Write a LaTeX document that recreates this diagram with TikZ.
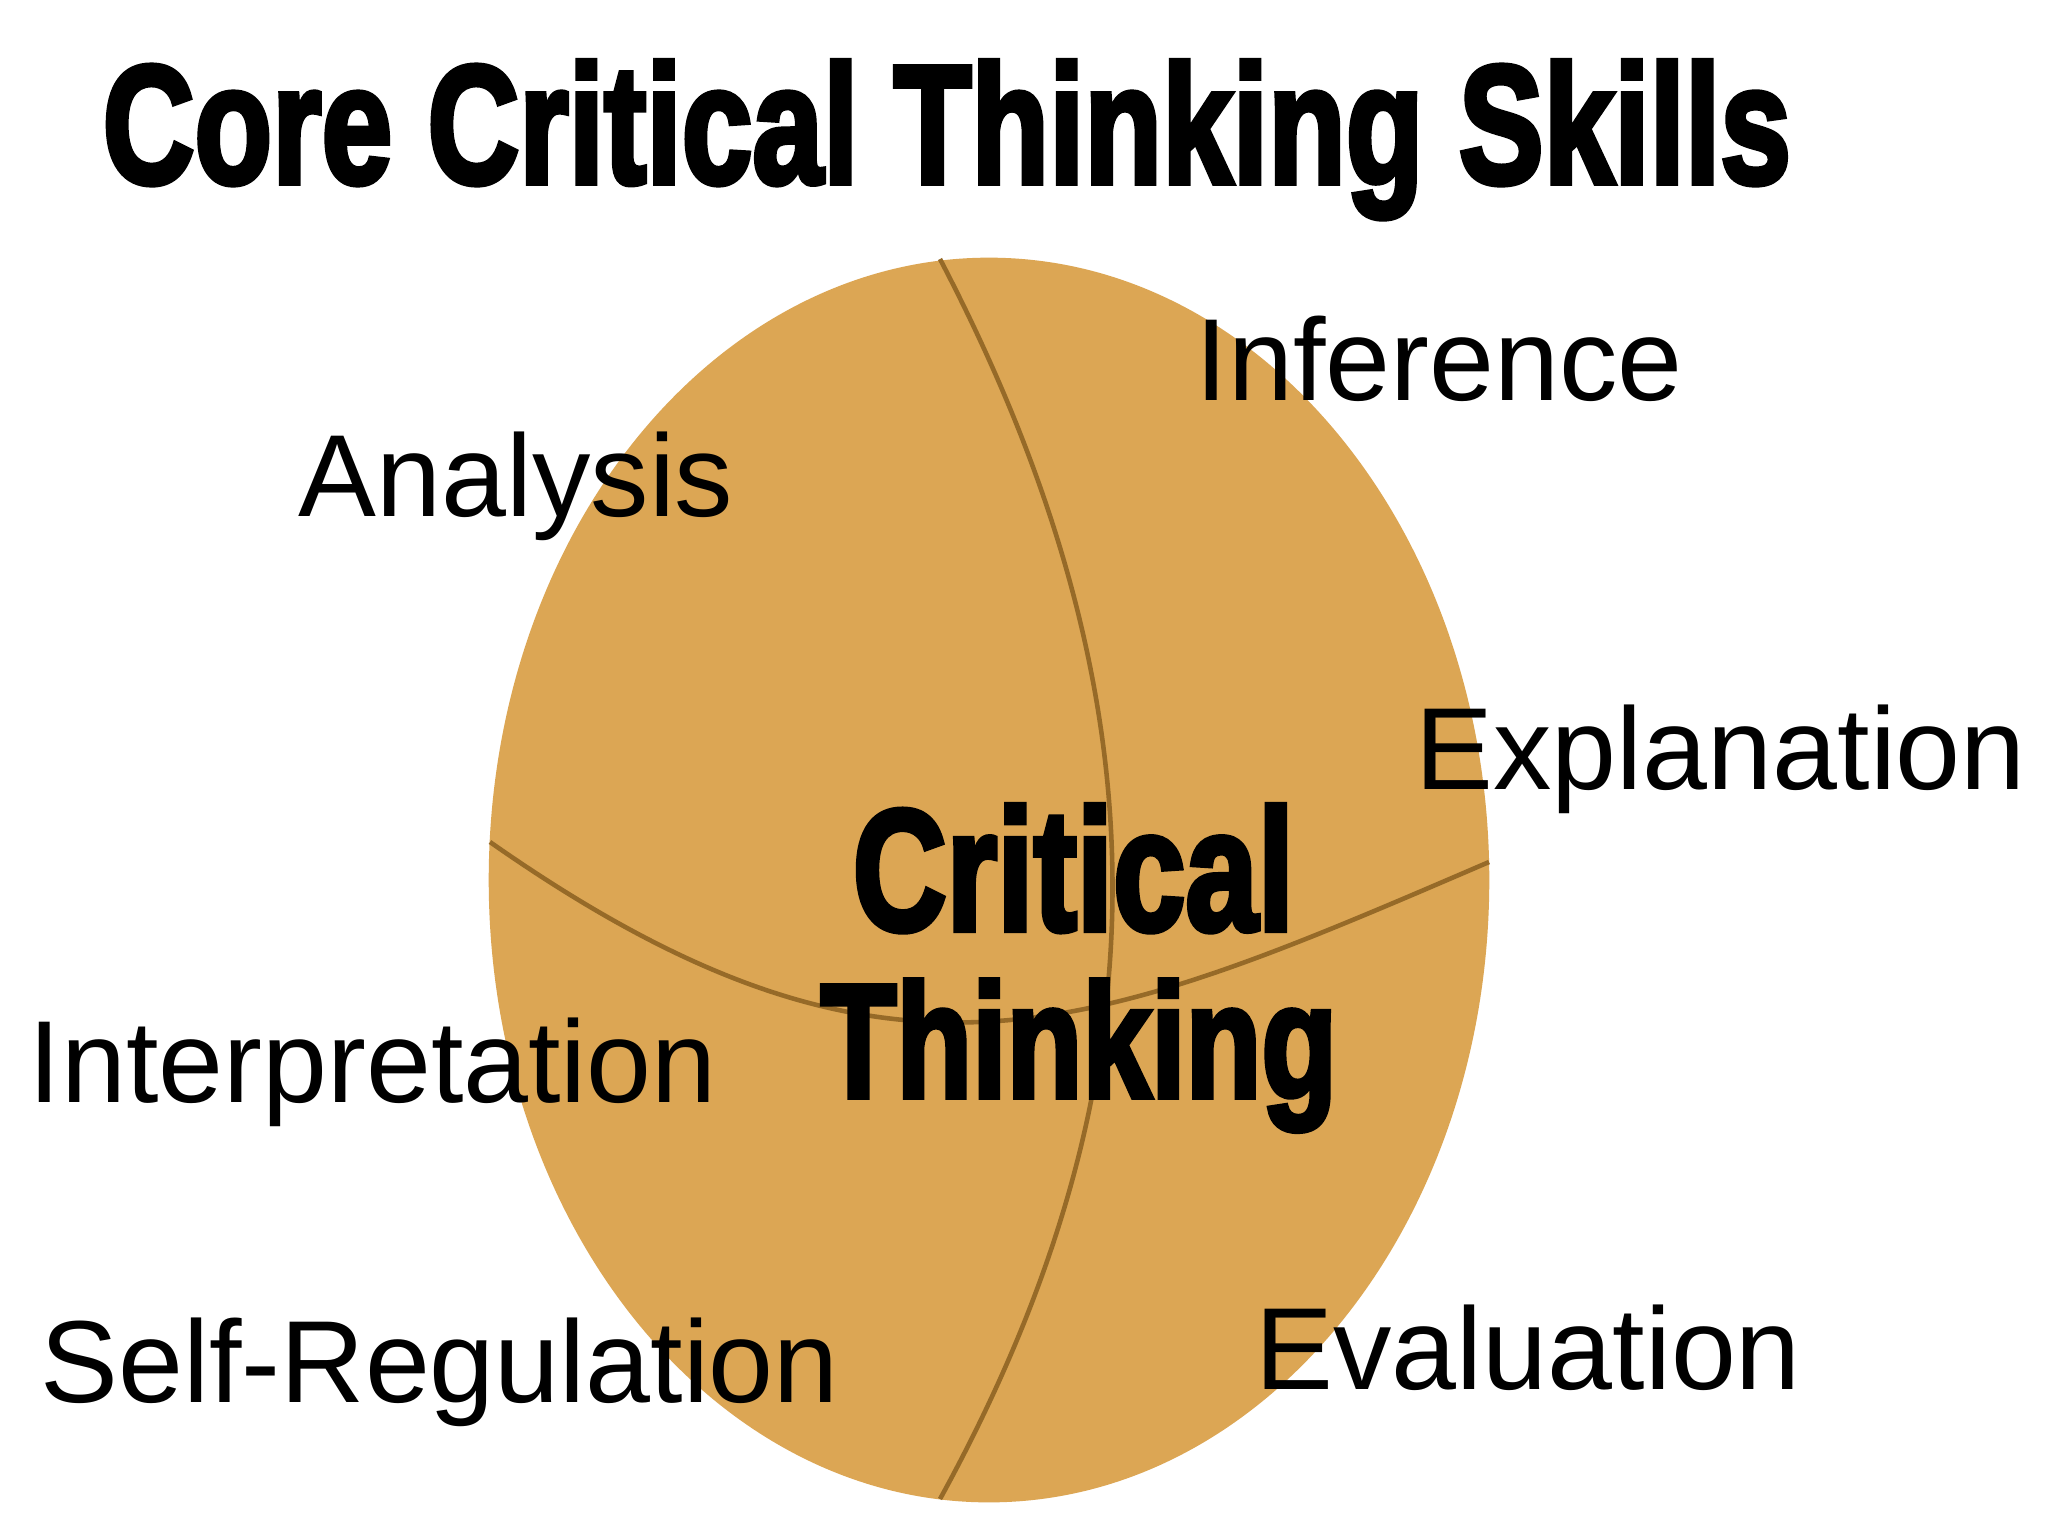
\documentclass[tikz,border=0pt]{standalone}
\usepackage{fontspec}
\usetikzlibrary{shapes.geometric}
\setmainfont{Liberation Sans}
\newfontfamily\heavyfont[FakeBold=3.5]{Liberation Sans Bold}
\definecolor{ballfill}{RGB}{220,166,84}
\definecolor{seam}{RGB}{150,106,40}
\begin{document}
\begin{tikzpicture}[x=0.01cm,y=-0.01cm,
  skill/.style={inner sep=0pt,anchor=base west,font=\fontsize{33.2pt}{36pt}\selectfont},
  heavy/.style={inner sep=0pt,anchor=base west},
  seamline/.style={draw=seam,line width=1.3pt}]
\useasboundingbox (0,0) rectangle (2048,1535);
\fill[white] (0,0) rectangle (2048,1535);
\node[ellipse,fill=ballfill,inner sep=0pt,minimum width=10cm,minimum height=12.44cm] (ball) at (989,880) {};
\coordinate (mtop) at (940,259);
\coordinate (mbot) at (940,1499);
\coordinate (hleft) at (490,842);
\coordinate (hright) at (1489,862);
\draw[seamline] (mtop) .. controls (1170,700) and (1170,1080) .. (mbot);
\draw[seamline] (hleft) .. controls (890,1122) and (1089,1034) .. (hright);
\node[heavy] (title) at (102,183) {\resizebox{16.87cm}{1.22cm}{\heavyfont Core Critical Thinking Skills}};
\node[heavy] (ct1) at (852,930) {\resizebox{4.41cm}{1.25cm}{\heavyfont Critical}};
\node[heavy] (ct2) at (820,1097) {\resizebox{5.16cm}{1.17cm}{\heavyfont Thinking}};
\node[skill] (analysis) at (298,516) {Analysis};
\node[skill] (inference) at (1195,400) {Inference};
\node[skill] (explanation) at (1415,789) {Explanation};
\node[skill] (interpretation) at (28,1102) {Interpretation};
\node[skill] (selfreg) at (40,1402) {Self-Regulation};
\node[skill] (evaluation) at (1255,1389) {Evaluation};
\end{tikzpicture}
\end{document}
